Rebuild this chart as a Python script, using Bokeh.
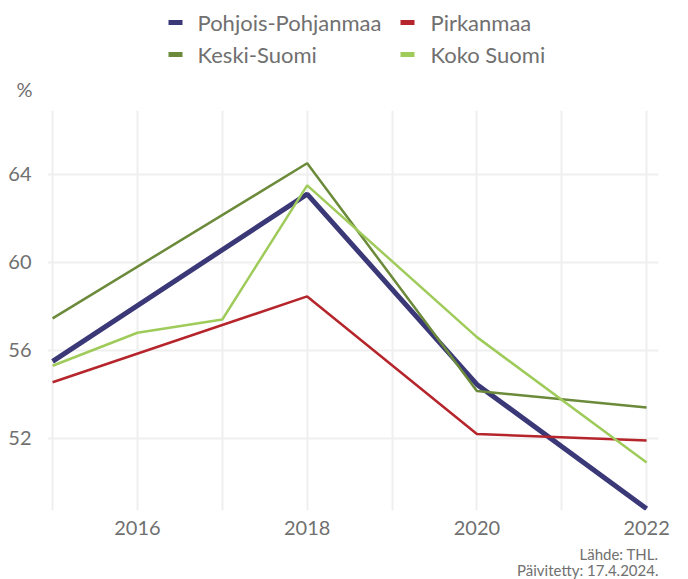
from bokeh.plotting import figure
from bokeh.layouts import column
from bokeh.models import Range1d, FixedTicker, ColumnDataSource
from bokeh.core.properties import value
from bokeh.embed import file_html
from bokeh.resources import INLINE

# data
years_regions = [2015, 2018, 2020, 2022]
pohjois_pohjanmaa = [55.5, 63.1, 54.45, 48.8]
pirkanmaa = [54.55, 58.45, 52.2, 51.9]
keski_suomi = [57.45, 64.5, 54.15, 53.4]
years_koko = [2015, 2016, 2017, 2018, 2020, 2022]
koko_suomi = [55.3, 56.8, 57.4, 63.5, 56.6, 50.9]

series_names = ["Pohjois-Pohjanmaa", "Pirkanmaa", "Keski-Suomi", "Koko Suomi"]
x_label_ticks = [2016, 2018, 2020, 2022]
x_grid_ticks = [2015, 2016, 2017, 2018, 2019, 2020, 2021, 2022]
y_ticks = [52, 56, 60, 64]

FONT = "Lato"
TXT = "#707070"
C_PP = "#3b3878"
C_PI = "#b5252b"
C_KS = "#6b8a3a"
C_KO = "#9fcb5b"
colors = [C_PP, C_PI, C_KS, C_KO]

W = 688
FRAME_L, FRAME_R = 47, 658   # page-pixel extent of the aligned plot frames
HEAD_A = 68
HEAD_B = 40


def blank(height, y_range):
    f = figure(width=W, height=height, output_backend="svg", toolbar_location=None,
               x_range=Range1d(FRAME_L, FRAME_R), y_range=y_range,
               x_axis_location=None, y_axis_location=None, min_border=0)
    f.grid.visible = False
    f.outline_line_color = None
    f.border_fill_color = "white"
    return f


# ---------- header A: legend (data units == page pixels) ----------
headA = blank(HEAD_A, Range1d(HEAD_A, 0))
col_glyph_x = [168, 400]
col_text_x = [197, 430]
row_y = [22, 54]
leg = ColumnDataSource(dict(
    gx=[col_glyph_x[i % 2] + 7 for i in range(4)],
    tx=[col_text_x[i % 2] for i in range(4)],
    y=[row_y[i // 2] for i in range(4)],
    name=series_names, color=colors))
headA.rect(x="gx", y="y", width=14, height=5, fill_color="color",
           line_color=None, source=leg)
headA.text(x="tx", y="y", text="name", text_font=value(FONT),
           text_font_size=value("22px"), text_color=TXT,
           text_baseline="middle", text_align="left", source=leg)

# ---------- header B: unit "%" as a horizontal axis label ----------
headB = figure(width=W, height=HEAD_B, output_backend="svg", toolbar_location=None,
               x_range=Range1d(FRAME_L, FRAME_R), y_range=Range1d(0, 1),
               x_axis_location=None, min_border=0)
headB.grid.visible = False
headB.outline_line_color = None
headB.border_fill_color = "white"
headB.yaxis.ticker = FixedTicker(ticks=[])
headB.yaxis.axis_line_color = None
headB.yaxis.major_tick_in = 0
headB.yaxis.major_tick_out = 0
headB.yaxis.minor_tick_line_color = None
headB.yaxis.axis_label = "%"
headB.yaxis.axis_label_orientation = "horizontal"
headB.yaxis.axis_label_standoff = 15
headB.yaxis.axis_label_text_font = FONT
headB.yaxis.axis_label_text_font_size = "20px"
headB.yaxis.axis_label_text_font_style = "normal"
headB.yaxis.axis_label_text_color = TXT

# ---------- main chart ----------
p = figure(width=W, height=437, output_backend="svg", toolbar_location=None,
           x_range=Range1d(2014.94, 2022.14), y_range=Range1d(48.72, 66.9),
           min_border_left=FRAME_L, min_border_right=W - FRAME_R, min_border_top=2,
           min_border_bottom=35)
p.outline_line_color = None
p.background_fill_color = "white"
p.border_fill_color = "white"

p.xaxis.ticker = FixedTicker(ticks=x_label_ticks)
p.yaxis.ticker = FixedTicker(ticks=y_ticks)
p.xgrid.ticker = FixedTicker(ticks=x_grid_ticks)
p.ygrid.ticker = FixedTicker(ticks=y_ticks)
for g in (p.xgrid, p.ygrid):
    g.grid_line_color = "#efefef"
    g.grid_line_width = 2
for ax in (p.xaxis, p.yaxis):
    ax.axis_line_color = None
    ax.major_tick_line_color = None
    ax.minor_tick_line_color = None
    ax.major_label_text_font = FONT
    ax.major_label_text_font_size = "20px"
    ax.major_label_text_color = TXT
p.xaxis.major_label_standoff = 4
p.yaxis.major_label_standoff = 10

p.line(years_regions, pohjois_pohjanmaa, line_color=C_PP, line_width=5)
p.line(years_regions, pirkanmaa, line_color=C_PI, line_width=2.5)
p.line(years_regions, keski_suomi, line_color=C_KS, line_width=2.5)
p.line(years_koko, koko_suomi, line_color=C_KO, line_width=2.5)

# ---------- footer (data units == page pixels) ----------
foot = blank(34, Range1d(579, 545))
src_foot = ColumnDataSource(dict(x=[FRAME_R, FRAME_R], y=[553, 569],
                                 t=["Lähde: THL.", "Päivitetty: 17.4.2024."]))
foot.text(x="x", y="y", text="t", text_font=value(FONT),
          text_font_size=value("15px"), text_color=TXT,
          text_align="right", text_baseline="middle", source=src_foot)

layout = column(headA, headB, p, foot, spacing=0)
open("out.html", "w").write(file_html(layout, INLINE))
